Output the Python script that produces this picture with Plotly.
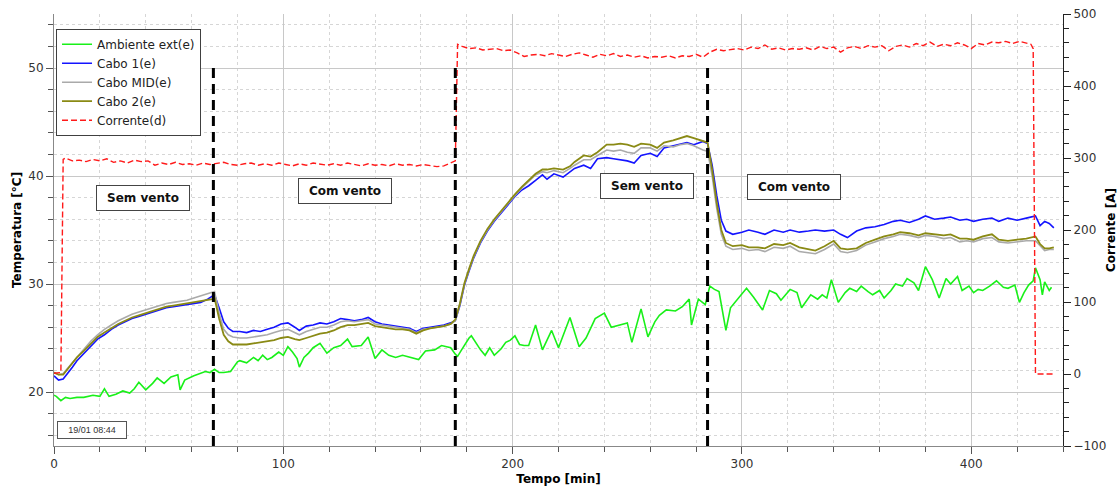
import plotly.graph_objects as go

# ---- Temperatures of the cables (left axis, °C) ----
t_cabo = [0, 2, 4, 6, 8, 10, 13, 16, 19, 22, 25, 28, 31, 34, 37, 40, 43, 46, 49, 52, 55, 58, 61, 64, 67, 69,
          70, 72, 74, 76, 78, 81, 84, 87, 90, 93, 96, 99, 102, 105, 107, 110, 113, 116, 119, 122, 125, 128, 131,
          134, 137, 140, 143, 146, 149, 152, 155, 158, 161, 164, 167, 170, 173,
          175, 177, 179, 181, 183, 186, 189, 192, 195, 198, 201, 204, 207, 210, 213, 215, 218, 222, 225, 227,
          231, 234, 237, 241, 244, 247, 250, 253, 256, 260, 263, 266, 270, 273, 276, 279, 283,
          285, 287, 289, 291, 293, 296, 300, 303, 307, 310, 314, 318, 321, 325, 329, 332, 336, 340, 343, 346,
          350, 354, 358, 362, 366, 369, 373, 377, 380, 384, 388, 391, 395, 398, 401, 405, 409, 412, 416, 420,
          424, 428, 430, 432, 434, 436]

cabo1 = [21.5, 21.1, 21.2, 21.7, 22.3, 22.9, 23.6, 24.3, 24.9, 25.3, 25.8, 26.2, 26.5, 26.8, 27.0, 27.2, 27.4,
         27.6, 27.8, 27.9, 28.0, 28.1, 28.2, 28.3, 28.6, 28.9,
         29.0, 27.8, 26.5, 25.9, 25.6, 25.6, 25.5, 25.7, 25.6, 25.8, 26.0, 26.3, 26.4, 26.0, 25.7, 26.1, 26.2,
         26.4, 26.3, 26.5, 26.8, 26.7, 26.6, 26.7, 26.9, 26.5, 26.3, 26.2, 26.1, 26.0, 25.9, 25.6, 25.9, 26.0,
         26.1, 26.2, 26.4,
         26.6, 28.0, 29.9, 31.2, 32.4, 33.8, 34.9, 35.8, 36.6, 37.4, 38.1, 38.7, 39.1, 39.6, 40.1, 39.7, 40.2,
         39.9, 40.4, 40.7, 41.0, 40.7, 41.6, 41.7, 41.6, 41.5, 41.4, 41.2, 41.9, 42.1, 41.8, 42.6, 42.8, 42.9,
         43.1, 42.9, 43.2,
         43.0, 41.0, 38.2, 35.9, 34.9, 34.6, 34.8, 35.0, 34.8, 34.6, 35.0, 34.8, 35.0, 34.8, 34.9, 35.0, 34.9,
         35.0, 34.6, 34.3, 34.9, 35.2, 35.3, 35.5, 35.8, 35.9, 35.7, 36.0, 36.3, 36.0, 36.1, 36.2, 35.9, 36.0,
         35.8, 36.0, 36.1, 35.8, 36.1, 35.9, 36.1, 36.3, 35.4, 35.8, 35.6, 35.2]

cabo_mid = [21.8, 21.6, 21.7, 22.2, 22.8, 23.3, 24.0, 24.7, 25.3, 25.8, 26.2, 26.6, 26.9, 27.2, 27.4, 27.6,
            27.8, 28.0, 28.2, 28.3, 28.4, 28.5, 28.7, 28.9, 29.1, 29.3,
            29.3, 27.3, 25.8, 25.3, 25.1, 25.0, 25.0, 25.1, 25.2, 25.3, 25.5, 25.7, 25.8, 25.5, 25.3, 25.6,
            25.8, 26.0, 26.0, 26.2, 26.5, 26.6, 26.5, 26.6, 26.7, 26.3, 26.2, 26.1, 26.0, 25.9, 25.8, 25.5,
            25.8, 25.9, 26.0, 26.1, 26.3,
            26.6, 28.1, 30.0, 31.3, 32.5, 33.9, 35.0, 35.9, 36.7, 37.5, 38.2, 38.9, 39.5, 40.1, 40.4, 40.3,
            40.5, 40.3, 40.7, 41.0, 41.5, 41.5, 41.9, 42.4, 42.3, 42.4, 42.2, 42.1, 42.6, 42.6, 42.3, 42.8,
            42.7, 42.9, 43.0, 42.8, 42.4,
            42.3, 40.0, 37.0, 34.6, 33.5, 33.2, 33.3, 33.1, 33.2, 33.0, 33.4, 33.3, 33.5, 33.0, 32.9, 32.8,
            33.2, 33.7, 33.0, 32.9, 33.1, 33.6, 33.9, 34.2, 34.4, 34.6, 34.5, 34.3, 34.5, 34.4, 34.2, 34.3,
            33.9, 34.0, 33.9, 34.2, 34.3, 33.9, 33.8, 33.9, 34.0, 34.0, 33.5, 33.1, 33.2, 33.2]

cabo2 = [21.8, 21.6, 21.6, 22.1, 22.7, 23.2, 23.8, 24.5, 25.1, 25.5, 25.9, 26.3, 26.6, 26.9, 27.1, 27.3, 27.5,
         27.7, 27.9, 28.0, 28.1, 28.2, 28.3, 28.4, 28.5, 28.6,
         28.7, 26.8, 25.3, 24.7, 24.4, 24.4, 24.4, 24.5, 24.6, 24.7, 24.8, 25.0, 25.1, 24.9, 24.8, 25.0, 25.2,
         25.4, 25.5, 25.7, 26.0, 26.2, 26.2, 26.3, 26.4, 26.1, 26.0, 25.9, 25.8, 25.8, 25.7, 25.4, 25.7, 25.9,
         26.0, 26.1, 26.3,
         26.7, 28.2, 30.1, 31.4, 32.6, 34.0, 35.1, 36.0, 36.8, 37.6, 38.3, 39.0, 39.6, 40.2, 40.6, 40.6, 40.7,
         40.6, 40.9, 41.3, 41.9, 41.8, 42.2, 42.9, 42.9, 43.0, 42.9, 42.7, 43.0, 42.9, 42.6, 43.1, 43.3, 43.5,
         43.7, 43.5, 43.2,
         43.1, 40.6, 37.5, 35.0, 33.8, 33.5, 33.6, 33.4, 33.4, 33.3, 33.7, 33.6, 33.8, 33.4, 33.2, 33.1, 33.5,
         34.0, 33.3, 33.2, 33.3, 33.8, 34.1, 34.4, 34.6, 34.8, 34.7, 34.5, 34.7, 34.6, 34.5, 34.6, 34.2, 34.2,
         34.1, 34.4, 34.6, 34.1, 34.0, 34.1, 34.2, 34.4, 33.7, 33.3, 33.3, 33.4]

# ---- Ambient temperature (left axis, °C) ----
t_amb = [0, 1, 3, 5, 7, 10, 13, 15, 17, 20, 22, 24, 27, 30, 33, 35, 37, 40, 43, 45, 48, 51, 54, 55, 57, 61, 64,
         66, 68, 70, 72, 74, 77, 80, 81, 84, 87, 89, 91, 93, 95, 98, 100, 102, 104, 106, 107, 109, 111, 113, 116,
         119, 122, 125, 128, 130, 134, 137, 140, 143, 146, 149, 152, 155, 159, 162, 166, 169, 173, 175, 176, 178,
         181, 182, 184, 186, 188, 190, 192, 195, 197, 199, 201, 203, 205, 207, 210, 213, 215, 217, 220, 222, 225,
         229, 232, 236, 240, 243, 246, 250, 252, 256, 259, 262, 264, 267, 271, 274, 277, 278, 281, 284, 286, 288,
         290, 291, 293, 295, 299, 302, 305, 309, 312, 315, 317, 321, 324, 326, 330, 333, 335, 337, 339, 342, 345,
         347, 350, 352, 355, 357, 360, 362, 365, 367, 370, 372, 375, 377, 380, 383, 386, 389, 391, 394, 396, 399,
         401, 403, 405, 408, 411, 414, 416, 419, 421, 423, 425, 427, 428, 430, 431, 432, 434, 435]

ambiente = [19.7, 19.6, 19.2, 19.5, 19.4, 19.5, 19.5, 19.6, 19.7, 19.6, 20.3, 19.6, 19.8, 20.1, 19.9, 20.3, 20.9,
            20.2, 20.8, 21.3, 20.8, 21.4, 21.6, 20.2, 21.1, 21.5, 21.7, 21.9, 21.8, 22.1, 21.8, 21.8, 21.9, 22.8,
            22.9, 22.7, 23.2, 22.9, 23.4, 23.0, 23.2, 23.7, 23.4, 24.2, 23.7, 23.1, 22.3, 23.2, 23.6, 24.1, 24.5,
            23.6, 24.1, 24.3, 24.9, 24.2, 24.3, 25.1, 23.1, 23.9, 23.4, 23.2, 23.4, 23.2, 23.0, 23.8, 23.9, 24.3,
            24.1, 23.5, 23.3, 24.0, 25.0, 25.2, 24.5, 23.9, 23.4, 24.1, 23.4, 24.0, 24.6, 24.8, 25.2, 24.4, 24.3,
            24.3, 26.2, 23.9, 24.8, 25.7, 24.1, 25.3, 26.9, 24.2, 25.0, 26.8, 27.3, 26.0, 26.2, 26.4, 24.6, 27.7,
            25.1, 26.5, 27.1, 27.6, 27.5, 27.9, 28.6, 26.2, 28.6, 28.1, 29.8, 29.5, 29.3, 28.2, 25.7, 27.8, 28.8,
            29.6, 28.8, 27.6, 29.4, 29.1, 28.5, 29.5, 29.2, 27.8, 29.0, 28.6, 29.0, 28.7, 30.4, 28.3, 29.2, 29.6,
            29.3, 29.8, 29.3, 29.0, 29.4, 28.7, 29.4, 30.0, 29.8, 30.5, 30.1, 29.4, 31.6, 30.4, 28.7, 30.5, 30.0,
            30.7, 29.4, 29.8, 29.2, 29.5, 29.4, 29.8, 30.3, 29.7, 29.6, 29.9, 28.3, 29.2, 29.9, 30.3, 31.5, 30.4,
            29.0, 30.2, 29.4, 29.7]

# ---- Current (right axis, A) ----
t_cor = [0, 3, 4, 5, 8, 11, 14, 17, 20, 23, 26, 29, 32, 35, 38, 41, 44, 47, 50, 53, 56, 59, 62, 65, 68, 71, 74,
         77, 80, 83, 86, 89, 92, 95, 98, 101, 104, 107, 110, 113, 116, 119, 122, 125, 128, 131, 134, 137, 140,
         143, 146, 149, 152, 155, 158, 161, 164, 167, 170, 172, 174, 175, 176, 178, 181, 184, 187, 190, 193,
         196, 199, 202, 205, 208, 211, 214, 217, 220, 223, 226, 229, 232, 235, 238, 241, 244, 247, 250, 253,
         256, 259, 262, 265, 268, 271, 274, 277, 280, 283, 286, 289, 292, 295, 298, 301, 304, 307, 310, 313,
         316, 319, 322, 325, 328, 331, 334, 337, 340, 343, 346, 349, 352, 355, 358, 361, 364, 367, 370, 373,
         376, 379, 382, 385, 388, 391, 394, 397, 400, 403, 406, 409, 412, 415, 418, 421, 424, 426, 427, 428,
         432, 436]

corrente = [1, 2, 298, 300, 296, 297, 295, 298, 296, 299, 294, 296, 293, 297, 295, 296, 290, 293, 291, 294, 291,
            292, 290, 293, 291, 292, 294, 291, 290, 292, 293, 290, 292, 290, 293, 291, 289, 292, 290, 293, 291,
            290, 292, 290, 293, 291, 289, 292, 290, 291, 289, 292, 290, 291, 289, 291, 290, 288, 289, 292, 294,
            296, 458, 455, 452, 453, 450, 451, 452, 449, 450, 446, 441, 443, 444, 442, 445, 443, 441, 444, 446,
            443, 440, 444, 442, 445, 441, 443, 440, 442, 439, 441, 440, 442, 439, 442, 441, 444, 440, 447, 451,
            449, 450, 452, 450, 454, 452, 457, 451, 453, 450, 452, 451, 453, 450, 455, 452, 454, 447, 453, 455,
            452, 456, 454, 456, 449, 455, 457, 454, 459, 456, 461, 455, 458, 456, 460, 457, 452, 459, 457, 461,
            460, 462, 459, 462, 460, 458, 452, 0, 0, 0]

# ---- Test phases ----
fases = [69.5, 175, 285]
rotulos = ["Sem vento", "Com vento", "Sem vento", "Com vento"]
rotulos_x = [39, 127, 258.5, 322.5]
rotulos_y = [38.0, 38.6, 39.1, 39.0]

FONT = "DejaVu Sans"

fig = go.Figure()
fig.add_trace(go.Scatter(x=t_amb, y=ambiente, name="Ambiente ext(e)", mode="lines",
                         line=dict(color="#19f019", width=1.6)))
fig.add_trace(go.Scatter(x=t_cabo, y=cabo1, name="Cabo 1(e)", mode="lines",
                         line=dict(color="#1414ff", width=1.6)))
fig.add_trace(go.Scatter(x=t_cabo, y=cabo_mid, name="Cabo MID(e)", mode="lines",
                         line=dict(color="#aaaaaa", width=1.6)))
fig.add_trace(go.Scatter(x=t_cabo, y=cabo2, name="Cabo 2(e)", mode="lines",
                         line=dict(color="#8a8a14", width=1.8)))
fig.add_trace(go.Scatter(x=t_cor, y=corrente, name="Corrente(d)", mode="lines", yaxis="y2",
                         line=dict(color="#ff1a1a", width=1.4, dash="6px,3px")))

for xf in fases:
    fig.add_shape(type="line", xref="x", yref="y", x0=xf, x1=xf, y0=15, y1=50,
                  line=dict(color="black", width=3, dash="10px,6px"), layer="above")

for txt, xa, ya in zip(rotulos, rotulos_x, rotulos_y):
    fig.add_annotation(x=xa, y=ya, xref="x", yref="y", text="<b>%s</b>" % txt, showarrow=False,
                       font=dict(family=FONT, size=12, color="#111"), bgcolor="white",
                       bordercolor="#444", borderwidth=1, borderpad=5, width=82)

fig.add_annotation(x=16.6, y=16.5, xref="x", yref="y", text="19/01 08:44", showarrow=False,
                   font=dict(family="Liberation Sans", size=9, color="#333"), bgcolor="white",
                   bordercolor="#555", borderwidth=1, borderpad=3, width=62)

grid_major = "#c8c8c8"
grid_minor = "#d6d6d6"
tickfont = dict(family=FONT, size=12, color="#333")
titlefont = dict(family=FONT, size=12, color="black")

fig.update_layout(
    width=1118, height=490,
    margin=dict(l=54, r=55, t=14, b=44),
    paper_bgcolor="white", plot_bgcolor="white",
    font=dict(family=FONT, size=12, color="#222"),
    showlegend=True,
    legend=dict(x=0.002, y=0.966, xanchor="left", yanchor="top", bgcolor="white",
                bordercolor="#404040", borderwidth=1, font=dict(family=FONT, size=12, color="#222"),
                itemwidth=30, tracegroupgap=0),
    xaxis=dict(range=[0, 440], tick0=0, dtick=100, ticks="outside", ticklen=7, tickcolor="#555",
               showgrid=True, gridcolor=grid_major, gridwidth=1, zeroline=False,
               showline=True, linecolor="#888", linewidth=1,
               minor=dict(dtick=20, ticks="outside", ticklen=5, tickcolor="#555", showgrid=True,
                          gridcolor=grid_minor, griddash="dot", gridwidth=1),
               tickfont=tickfont, automargin=False,
               title=dict(text="<b>Tempo [min]</b>", font=titlefont, standoff=4)),
    yaxis=dict(range=[15, 55], tick0=0, dtick=10, ticks="outside", ticklen=7, tickcolor="#555",
               showgrid=True, gridcolor=grid_major, gridwidth=1, zeroline=False,
               showline=True, linecolor="#888", linewidth=1,
               minor=dict(dtick=2, ticks="outside", ticklen=5, tickcolor="#555", showgrid=True,
                          gridcolor=grid_minor, griddash="dot", gridwidth=1),
               tickfont=tickfont, automargin=False,
               title=dict(text="<b>Temperatura [°C]</b>", font=titlefont, standoff=4)),
    yaxis2=dict(range=[-100, 500], tick0=0, dtick=100, overlaying="y", side="right", anchor="x",
                ticks="outside", ticklen=7, tickcolor="#222", showgrid=False, zeroline=False,
                showline=True, linecolor="#222", linewidth=1,
                minor=dict(dtick=20, ticks="outside", ticklen=5, tickcolor="#222", showgrid=False),
                tickfont=tickfont, automargin=False,
                title=dict(text="<b>Corrente [A]</b>", font=titlefont, standoff=4)),
)

fig.write_html("out.html")
